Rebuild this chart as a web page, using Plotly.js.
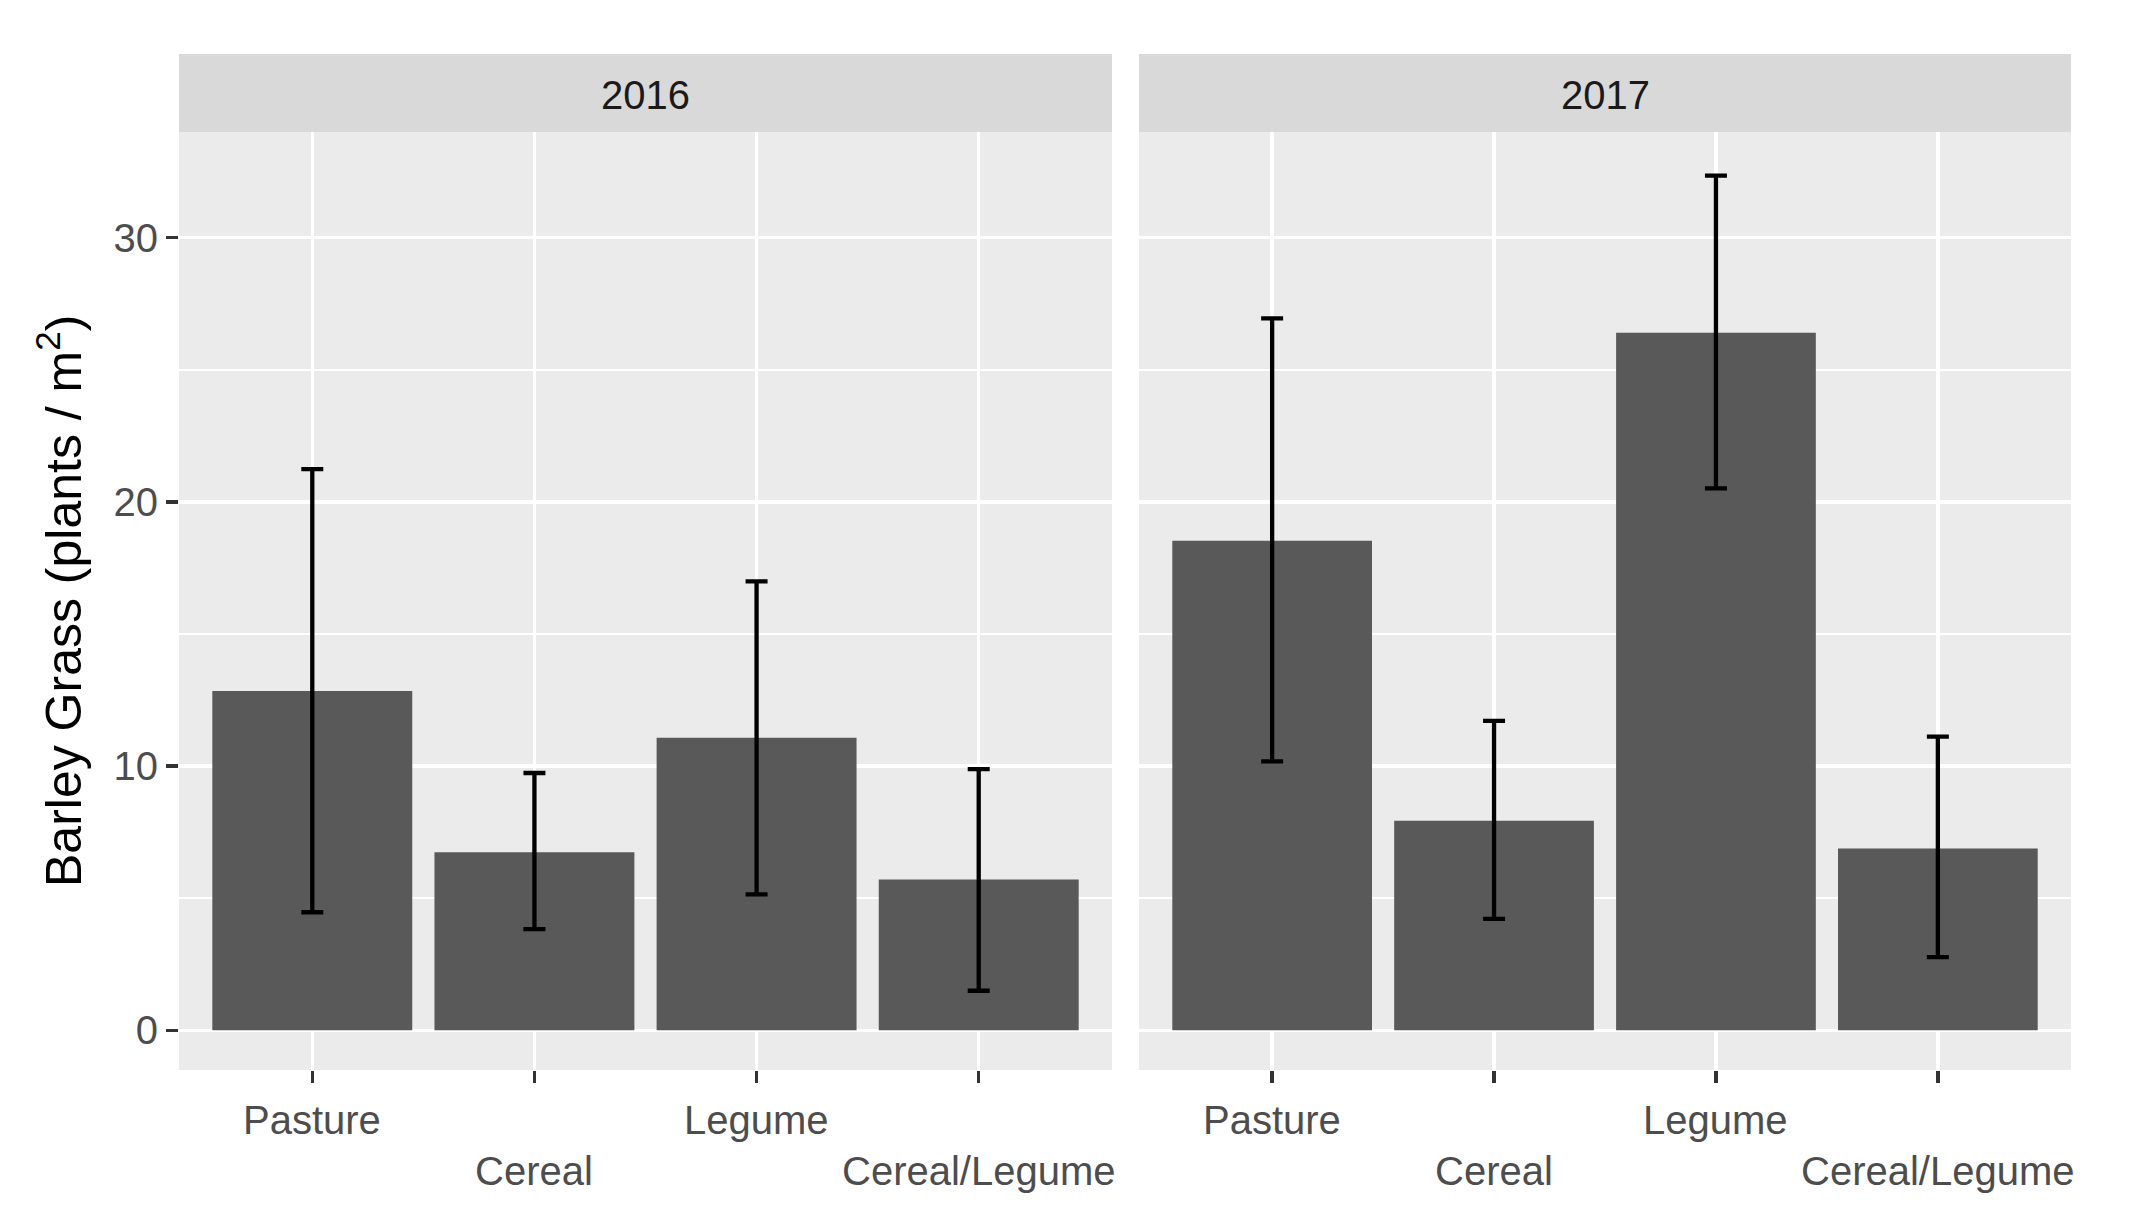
<!DOCTYPE html>
<html>
<head>
<meta charset="utf-8">
<script src="https://cdn.plot.ly/plotly-3.0.1.min.js"></script>
<style>html,body{margin:0;padding:0;background:#fff;}#chart{width:2142px;height:1226px;}</style>
</head>
<body>
<div id="chart"></div>
<script>
// ---- data ----
const categories = ["Pasture", "Cereal", "Legume", "Cereal/Legume"];
const years = ["2016", "2017"];
const mean2016 = [12.84, 6.74, 11.07, 5.71];
const lower2016 = [4.47, 3.83, 5.15, 1.50];
const upper2016 = [21.24, 9.74, 16.99, 9.89];
const mean2017 = [18.53, 7.93, 26.40, 6.88];
const lower2017 = [10.18, 4.22, 20.51, 2.77];
const upper2017 = [26.95, 11.71, 32.35, 11.12];
const yTickVals = [0, 10, 20, 30];
const yTitle = "Barley Grass (plants / m<sup>2</sup>)";

// ---- styling ----
const W = 2142, H = 1226;
const FONT = "Liberation Sans, Arial, sans-serif";
const panelTop = 132, panelBottom = 1070, stripTop = 54;
const px = v => v / W;
const py = v => (H - v) / H;
const xDomains = [[px(179), px(1112)], [px(1139), px(2071)]];
const yDomain = [py(panelBottom), py(panelTop)];

function barTrace(means, lows, ups, xa, ya) {
  return {
    type: "bar", x: categories, y: means, xaxis: xa, yaxis: ya,
    width: 0.9, marker: {color: "#595959", line: {width: 0}},
    error_y: {
      type: "data", symmetric: false,
      array: ups.map((u, i) => u - means[i]),
      arrayminus: means.map((m, i) => m - lows[i]),
      color: "#000000", thickness: 4.3, width: 11
    },
    hoverinfo: "x+y", showlegend: false
  };
}

const data = [
  barTrace(mean2016, lower2016, upper2016, "x", "y"),
  barTrace(mean2017, lower2017, upper2017, "x2", "y2")
];

function xAxis(domain, anchor) {
  return {
    domain: domain, anchor: anchor, type: "category",
    categoryorder: "array", categoryarray: categories,
    range: [-0.6, 3.6], showgrid: true, gridcolor: "#FFFFFF", gridwidth: 3.5,
    zeroline: false, showline: false, showticklabels: false,
    ticks: "outside", ticklen: 12, tickwidth: 3.5, tickcolor: "#333333",
    fixedrange: true
  };
}
function yAxis(anchor, labels) {
  return {
    domain: yDomain, anchor: anchor, range: [-1.5, 34.0],
    tickvals: yTickVals, showgrid: true, gridcolor: "#FFFFFF", gridwidth: 3.5,
    minor: {dtick: 5, tick0: 0, showgrid: true, gridcolor: "#FFFFFF", gridwidth: 1.8, ticks: ""},
    zeroline: false, showline: false, showticklabels: labels,
    ticks: labels ? "outside" : "", ticklen: 12, tickwidth: 3.5, tickcolor: "#333333",
    tickfont: {family: FONT, size: 40, color: "#4D4D4D"},
    fixedrange: true
  };
}

const shapes = [];
const annotations = [];
years.forEach((yr, i) => {
  shapes.push({
    type: "rect", xref: "paper", yref: "paper",
    x0: xDomains[i][0], x1: xDomains[i][1], y0: py(panelTop), y1: py(stripTop),
    fillcolor: "#D9D9D9", line: {width: 0}, layer: "below"
  });
  annotations.push({
    xref: "paper", yref: "paper",
    x: (xDomains[i][0] + xDomains[i][1]) / 2, y: py((panelTop + stripTop) / 2 + 2),
    xanchor: "center", yanchor: "middle", showarrow: false, text: yr,
    font: {family: FONT, size: 40, color: "#1A1A1A"}
  });
  const xa = i === 0 ? "x" : "x2";
  categories.forEach((c, j) => {
    annotations.push({
      xref: xa, yref: "paper", x: c, y: py(j % 2 === 0 ? 1120 : 1171),
      xanchor: "center", yanchor: "middle", showarrow: false, text: c,
      font: {family: FONT, size: 40, color: "#4D4D4D"}
    });
  });
});
annotations.push({
  xref: "paper", yref: "paper", x: px(60), y: py(601),
  xanchor: "center", yanchor: "middle", showarrow: false, textangle: -90,
  text: yTitle, font: {family: FONT, size: 50, color: "#000000"}
});

const layout = {
  width: W, height: H, margin: {l: 0, r: 0, t: 0, b: 0},
  paper_bgcolor: "#FFFFFF", plot_bgcolor: "#EBEBEB",
  font: {family: FONT},
  xaxis: xAxis(xDomains[0], "y"),
  xaxis2: xAxis(xDomains[1], "y2"),
  yaxis: yAxis("x", true),
  yaxis2: Object.assign(yAxis("x2", false), {matches: "y"}),
  bargap: 0.1, shapes: shapes, annotations: annotations, showlegend: false
};

Plotly.newPlot("chart", data, layout, {staticPlot: true, displayModeBar: false});
</script>
</body>
</html>
